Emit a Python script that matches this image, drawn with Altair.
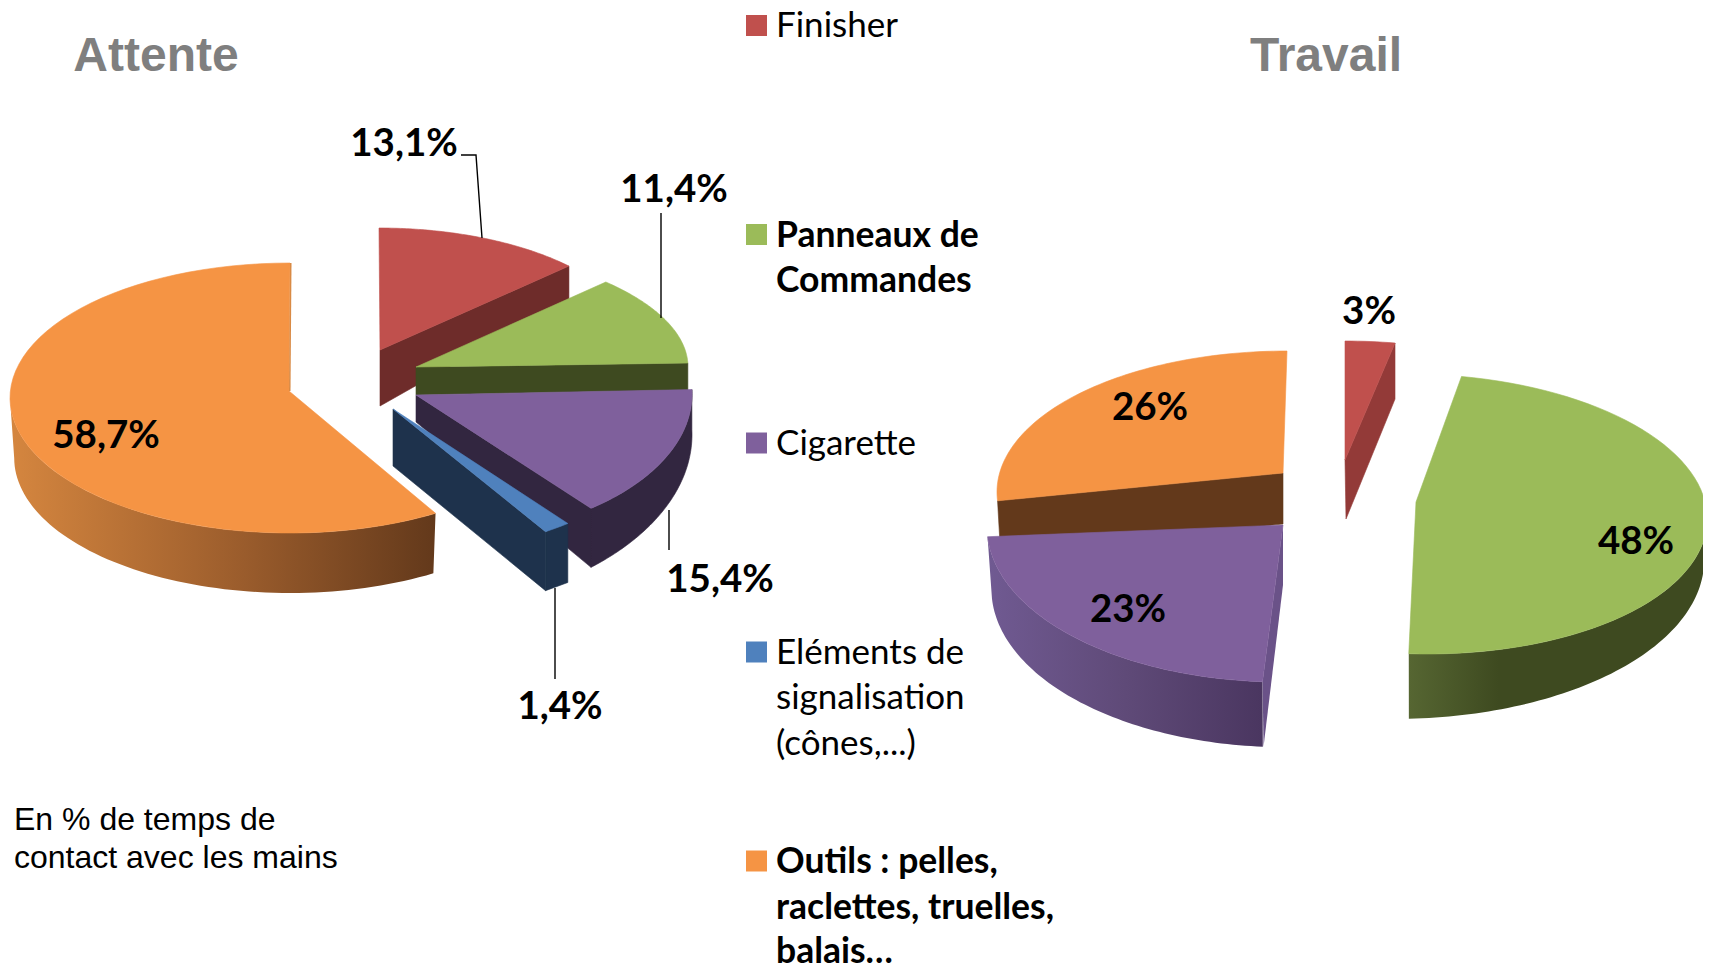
import math
import altair as alt
import pandas as pd

# ---- data
categories = ["Finisher", "Panneaux de Commandes", "Cigarette", "Eléments de signalisation", "Outils"]
attente = [13.1, 11.4, 15.4, 1.4, 58.7]
travail = [3, 48, 23, 0, 26]
attente_labels = ["13,1%", "11,4%", "15,4%", "1,4%", "58,7%"]
travail_labels = ["3%", "48%", "23%", "", "26%"]
legend_lines = [["Finisher"], ["Panneaux de", "Commandes"], ["Cigarette"],
                ["Eléments de", "signalisation", "(cônes,...)"],
                ["Outils : pelles,", "raclettes, truelles,", "balais…"]]
legend_bold = [False, True, False, False, True]
note_lines = ["En % de temps de", "contact avec les mains"]

# ---- styling and layout
TOP = ["#c0504d", "#9bbb59", "#7f609c", "#4f81bd", "#f59444"]
DARK = ["#6e2c2a", "#3e4a20", "#322640", "#1e324c", "#63391b"]
W, H = 1695, 955
X = alt.X("x:Q", scale=alt.Scale(domain=[8, 8 + W], nice=False, zero=False), axis=None)
Y = alt.Y("y:Q", scale=alt.Scale(domain=[8 + H, 8], nice=False, zero=False), axis=None)


def grad(stops):
    return alt.LinearGradient(gradient="linear", x1=0, x2=1, y1=0, y2=0,
                              stops=[alt.GradientStop(offset=o, color=c) for o, c in stops])


def poly(points, fill, edge=None):
    df = pd.DataFrame({"x": [p[0] for p in points], "y": [p[1] for p in points],
                       "o": list(range(len(points)))})
    if edge:
        m = alt.Chart(df).mark_line(interpolate="linear-closed", fill=fill, stroke=edge, strokeWidth=0.6)
    else:
        m = alt.Chart(df).mark_line(interpolate="linear-closed", fill=fill, strokeWidth=0)
    return m.encode(x=X, y=Y, order=alt.Order("o:Q"))


def spans(values):
    out, a = [], 0.0
    total = sum(values)
    for v in values:
        b = a + v / total * 360
        out.append((a, b))
        a = b
    return out


def ell(g, t):
    r = math.radians(t)
    return (g["cx"] + g["rx"] * math.sin(r) + g.get("k", 0) * math.cos(r),
            g["cy"] - g["ry"] * math.cos(r))


def arc(g, t0, t1, n=70):
    return [ell(g, t0 + (t1 - t0) * i / n) for i in range(n + 1)]


def side(g, t0, t1, d0, d1, n=70, ls=1.0):
    top = arc(g, t0, t1, n)
    low = [(g["cx"] + (x - g["cx"]) * ls, y + d0 + (d1 - d0) * i / n) for i, (x, y) in enumerate(top)]
    return top + low[::-1]


# vertex, ellipse centre / radii for each exploded slice
G_A = [
    dict(v=(380, 350), cx=379, cy=347, rx=259, ry=119),
    dict(v=(416, 367), cx=380, cy=367, rx=308, ry=125),
    dict(v=(416, 395), cx=444, cy=394, rx=248, ry=142),
    dict(v=(393, 409), cx=387, cy=389, rx=305, ry=167),
    dict(v=(289, 391), cx=290, cy=398, rx=280, ry=135),
]
G_T = [
    dict(v=(1345, 460), cx=1345, cy=456, rx=267, ry=115),
    dict(v=(1416, 502), cx=1417, cy=514, rx=290, ry=140, k=-10),
    dict(v=(1283, 525), cx=1281, cy=527, rx=294, ry=155),
    None,
    dict(v=(1283, 473), cx=1287, cy=492, rx=290, ry=141),
]

layers = []
S = spans(attente)

# Attente: Outils
g, (a, b) = G_A[4], S[4]
layers.append(poly(side(g, a, 270, 60, 60, ls=0.985),
                   grad([(0, "#d5863f"), (0.55, "#9a5c2c"), (1, "#63391b")])))
layers.append(poly(arc(g, a, b) + [g["v"]], TOP[4], TOP[4]))
top = ell(g, b)
layers.append(poly([g["v"], top, (top[0] + 1.5, top[1]), (g["v"][0] + 1.5, g["v"][1])], "#d98a44"))

# Attente: Finisher
g, (a, b) = G_A[0], S[0]
e = ell(g, b)
layers.append(poly([g["v"], e, (e[0], e[1] + 33), (g["v"][0], g["v"][1] + 56)], DARK[0], DARK[0]))
layers.append(poly([g["v"]] + arc(g, a, b), TOP[0], TOP[0]))

# Attente: Panneaux
g, (a, b) = G_A[1], S[1]
e = ell(g, b)
layers.append(poly([g["v"], e, (e[0], e[1] + 27), (g["v"][0], g["v"][1] + 28)], DARK[1], DARK[1]))
layers.append(poly([g["v"]] + arc(g, a, b), TOP[1], TOP[1]))

# Attente: Cigarette
g, (a, b) = G_A[2], S[2]
e = ell(g, b)
layers.append(poly(side(g, a, b, 40, 59), DARK[2], DARK[2]))
layers.append(poly([g["v"], e, (e[0], e[1] + 59), (g["v"][0], g["v"][1] + 27)], DARK[2], DARK[2]))
layers.append(poly([g["v"]] + arc(g, a, b), TOP[2], TOP[2]))

# Attente: Eléments
g, (a, b) = G_A[3], S[3]
s, e = ell(g, a), ell(g, b)
layers.append(poly([s, e, (e[0], e[1] + 59), (s[0], s[1] + 59)], DARK[3], DARK[3]))
layers.append(poly([g["v"], e, (e[0], e[1] + 59), (g["v"][0], g["v"][1] + 57)], DARK[3], DARK[3]))
layers.append(poly([g["v"]] + arc(g, a, b, 8), TOP[3], TOP[3]))

S = spans(travail)
# Travail: Outils
g, (a, b) = G_T[4], S[4]
e = ell(g, a)
layers.append(poly([g["v"], e, (e[0] + 3, e[1] + 53), (g["v"][0], g["v"][1] + 51)], DARK[4], DARK[4]))
layers.append(poly([g["v"]] + arc(g, a, b), TOP[4], TOP[4]))

# Travail: Cigarette
g, (a, b) = G_T[2], S[2]
s = ell(g, a)
layers.append(poly(side(g, a, b, 65, 62, ls=0.985),
                   grad([(0, "#705a92"), (0.5, "#5f4a78"), (1, "#4a3660")])))
layers.append(poly([g["v"], s, (s[0] + 1, s[1] + 65), (g["v"][0], g["v"][1] + 60)], "#6a5288"))
layers.append(poly([g["v"]] + arc(g, a, b), TOP[2], TOP[2]))

# Travail: Finisher
g, (a, b) = G_T[0], S[0]
e = ell(g, b)
layers.append(poly([g["v"], e, (e[0], e[1] + 56), (g["v"][0] + 1, g["v"][1] + 59)], "#933a38", "#933a38"))
layers.append(poly([g["v"]] + arc(g, a, b, 8), TOP[0], TOP[0]))

# Travail: Panneaux
g, (a, b) = G_T[1], S[1]
layers.append(poly(side(g, 90, b, 40, 65, ls=0.99),
                   grad([(0, "#566632"), (0.3, "#3e4a20"), (1, "#3e4a20")])))
layers.append(poly([g["v"]] + arc(g, a, b), TOP[1], TOP[1]))

# Leader lines
leaders = [
    [(461, 155), (476, 155), (482, 238)],
    [(661, 213), (661, 318)],
    [(669, 510), (669, 550)],
    [(555, 588), (555, 679)],
]
for i, pts in enumerate(leaders):
    df = pd.DataFrame({"x": [p[0] for p in pts], "y": [p[1] for p in pts], "o": list(range(len(pts)))})
    layers.append(alt.Chart(df).mark_line(color="#000000", strokeWidth=1.4)
                  .encode(x=X, y=Y, order=alt.Order("o:Q")))


def text(rows, **kw):
    df = pd.DataFrame(rows, columns=["x", "y", "t"])
    return alt.Chart(df).mark_text(baseline="middle", color=kw.pop("color", "#000000"), **kw).encode(
        x=X, y=Y, text="t:N")


# Percent labels
pos_a = [(404, 144), (674, 190), (720, 580), (560, 707), (106, 436)]
pos_t = [(1369, 312), (1636, 542), (1128, 610), None, (1150, 408)]
rows = [(p[0], p[1], l) for p, l in zip(pos_a, attente_labels)]
rows += [(p[0], p[1], l) for p, l in zip(pos_t, travail_labels) if p]
layers.append(text(rows, font="Lato", fontSize=38.5, fontWeight="bold", align="center"))

# Titles
layers.append(text([(156, 57, "Attente"), (1326, 57, "Travail")], font="Liberation Sans",
                   fontSize=48, fontWeight="bold", align="center", color="#7f7f7f"))

# Note
layers.append(text([(14, 820, note_lines[0]), (14, 858, note_lines[1])], font="Liberation Sans",
                   fontSize=32, align="left"))

# Legend
ys = [[26], [236, 281], [444], [653, 698, 744], [862, 908, 952]]
sq_y = [25.5, 234.5, 443, 652, 861]
sq = pd.DataFrame({"x": [756.5] * 5, "y": sq_y, "c": categories})
layers.append(alt.Chart(sq).mark_square(size=441, opacity=1, strokeWidth=0).encode(
    x=X, y=Y, color=alt.Color("c:N", scale=alt.Scale(domain=categories, range=TOP), legend=None)))
for lines, yy, bold in zip(legend_lines, ys, legend_bold):
    kw = {"fontWeight": "bold"} if bold else {}
    layers.append(text([(776, y, l) for y, l in zip(yy, lines)], font="Lato",
                       fontSize=35.5 if bold else 35, align="left", **kw))

chart = alt.layer(*layers).properties(
    width=W, height=H, padding=0, autosize=alt.AutoSizeParams(type="none"), background="#ffffff"
).configure_view(stroke=None)

chart.save("out.html", embed_options={"renderer": "svg", "actions": False})
